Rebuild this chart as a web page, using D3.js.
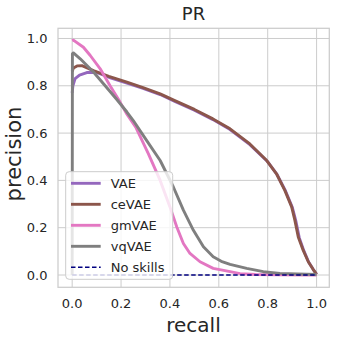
<!DOCTYPE html>
<html>
<head>
<meta charset="utf-8">
<script src="https://cdn.jsdelivr.net/npm/d3@7"></script>
<style>
  body { margin: 0; background: #fff; }
  text { font-family: "DejaVu Sans", sans-serif; fill: #262626; }
</style>
</head>
<body>
<div id="chart"></div>
<script>
// PR curves
var vaeRecall = [0, 0.003, 0.012, 0.03, 0.06, 0.1, 0.15, 0.224, 0.29, 0.36, 0.42, 0.5, 0.576, 0.646, 0.727, 0.798, 0.838, 0.873, 0.901, 0.915, 0.929, 0.948, 0.968, 0.986, 1.0];
var vaePrec   = [0.77, 0.80, 0.83, 0.845, 0.856, 0.857, 0.836, 0.811, 0.789, 0.763, 0.734, 0.697, 0.657, 0.615, 0.551, 0.481, 0.425, 0.355, 0.285, 0.229, 0.158, 0.102, 0.054, 0.024, 0.003];
var cevaeRecall = [0, 0.005, 0.02, 0.04, 0.087, 0.15, 0.224, 0.29, 0.36, 0.42, 0.5, 0.576, 0.646, 0.727, 0.796, 0.836, 0.87, 0.898, 0.911, 0.925, 0.945, 0.966, 0.985, 1.0];
var cevaePrec   = [0.86, 0.875, 0.884, 0.885, 0.864, 0.84, 0.815, 0.792, 0.766, 0.737, 0.70, 0.66, 0.618, 0.554, 0.484, 0.428, 0.358, 0.288, 0.232, 0.161, 0.105, 0.056, 0.025, 0.003];
var gmvaeRecall = [0, 0.005, 0.046, 0.074, 0.114, 0.155, 0.196, 0.224, 0.26, 0.312, 0.36, 0.40, 0.428, 0.455, 0.482, 0.523, 0.577, 0.646, 0.687, 0.75, 0.85, 1.0];
var gmvaePrec   = [0.99, 0.993, 0.963, 0.928, 0.873, 0.80, 0.731, 0.68, 0.625, 0.512, 0.40, 0.288, 0.203, 0.133, 0.091, 0.056, 0.028, 0.014, 0.006, 0.002, 0.001, 0.0];
var vqvaeRecall = [0, 0.001, 0.005, 0.033, 0.087, 0.135, 0.18, 0.224, 0.25, 0.305, 0.36, 0.414, 0.455, 0.496, 0.537, 0.577, 0.61, 0.646, 0.714, 0.782, 0.85, 0.92, 1.0];
var vqvaePrec   = [0.0, 0.935, 0.939, 0.914, 0.858, 0.80, 0.745, 0.689, 0.653, 0.568, 0.484, 0.372, 0.274, 0.189, 0.119, 0.077, 0.058, 0.045, 0.028, 0.014, 0.007, 0.004, 0.002];
var noSkillRecall = [0, 1];
var noSkillPrec   = [0, 0];

var names = ["VAE", "ceVAE", "gmVAE", "vqVAE", "No skills"];
var colors = ["#9467bd", "#8c564b", "#e377c2", "#7f7f7f", "#000080"];
var ticks = [0, 0.2, 0.4, 0.6, 0.8, 1.0];

var series = [
  {recall: vaeRecall, prec: vaePrec},
  {recall: cevaeRecall, prec: cevaePrec},
  {recall: gmvaeRecall, prec: gmvaePrec},
  {recall: vqvaeRecall, prec: vqvaePrec},
  {recall: noSkillRecall, prec: noSkillPrec}
];

var svg = d3.select("#chart").append("svg")
    .attr("width", 342)
    .attr("height", 337);

var pLeft = 58, pRight = 329.3, pTop = 28.3, pBottom = 287.3;

var x = d3.scaleLinear().domain([-0.058, 1.052]).range([pLeft, pRight]);
var y = d3.scaleLinear().domain([-0.052, 1.043]).range([pBottom, pTop]);

var g = svg.append("g");

// grid
g.selectAll(".gx").data(ticks).enter().append("line")
    .attr("x1", function(d) { return x(d); }).attr("x2", function(d) { return x(d); })
    .attr("y1", pTop).attr("y2", pBottom)
    .attr("stroke", "#cccccc").attr("stroke-width", 1);
g.selectAll(".gy").data(ticks).enter().append("line")
    .attr("y1", function(d) { return y(d); }).attr("y2", function(d) { return y(d); })
    .attr("x1", pLeft).attr("x2", pRight)
    .attr("stroke", "#cccccc").attr("stroke-width", 1);

// frame
g.append("rect")
    .attr("x", pLeft).attr("y", pTop)
    .attr("width", pRight - pLeft).attr("height", pBottom - pTop)
    .attr("fill", "none").attr("stroke", "#cccccc").attr("stroke-width", 1.25);

// tick labels
g.selectAll(".tx").data(ticks).enter().append("text")
    .attr("x", function(d) { return x(d); })
    .attr("y", 308)
    .attr("text-anchor", "middle")
    .style("font-size", "13px")
    .text(function(d) { return d.toFixed(1); });
g.selectAll(".ty").data(ticks).enter().append("text")
    .attr("x", 47.5)
    .attr("y", function(d) { return y(d); })
    .attr("dy", "0.35em")
    .attr("text-anchor", "end")
    .style("font-size", "13px")
    .text(function(d) { return d.toFixed(1); });

// curves
var line = d3.line()
    .x(function(d) { return x(d[0]); })
    .y(function(d) { return y(d[1]); });

series.forEach(function(s, i) {
  var pts = s.recall.map(function(r, j) { return [r, s.prec[j]]; });
  g.append("path")
      .attr("d", line(pts))
      .attr("fill", "none")
      .attr("stroke", colors[i])
      .attr("stroke-width", i == 4 ? 1.5 : 2.9)
      .attr("stroke-dasharray", i == 4 ? "4.5,2.5" : null)
      .attr("stroke-linejoin", "round");
});

// titles
svg.append("text").attr("x", 193.5).attr("y", 20)
    .attr("text-anchor", "middle").style("font-size", "18px").text("PR");
svg.append("text").attr("x", 193.5).attr("y", 331.5)
    .attr("text-anchor", "middle").style("font-size", "20px").text("recall");
svg.append("text")
    .attr("transform", "translate(20.5,154) rotate(-90)")
    .attr("text-anchor", "middle").style("font-size", "21px").text("precision");

// legend
var lg = svg.append("g");
lg.append("rect")
    .attr("x", 65.7).attr("y", 171.7).attr("width", 107).attr("height", 107.6)
    .attr("rx", 3.5)
    .attr("fill", "#fff").attr("fill-opacity", 0.8)
    .attr("stroke", "#cccccc").attr("stroke-width", 1);
var row = lg.selectAll(".row").data(names).enter().append("g")
    .attr("transform", function(d, i) { return "translate(0," + (183.3 + i * 21) + ")"; });
row.append("line")
    .attr("x1", 71).attr("x2", 100.7)
    .attr("stroke", function(d, i) { return colors[i]; })
    .attr("stroke-width", function(d, i) { return i == 4 ? 1.5 : 2.9; })
    .attr("stroke-dasharray", function(d, i) { return i == 4 ? "4.5,2.5" : null; });
row.append("text")
    .attr("x", 110.7).attr("dy", "0.35em")
    .style("font-size", "13px")
    .text(function(d) { return d; });
</script>
</body>
</html>
